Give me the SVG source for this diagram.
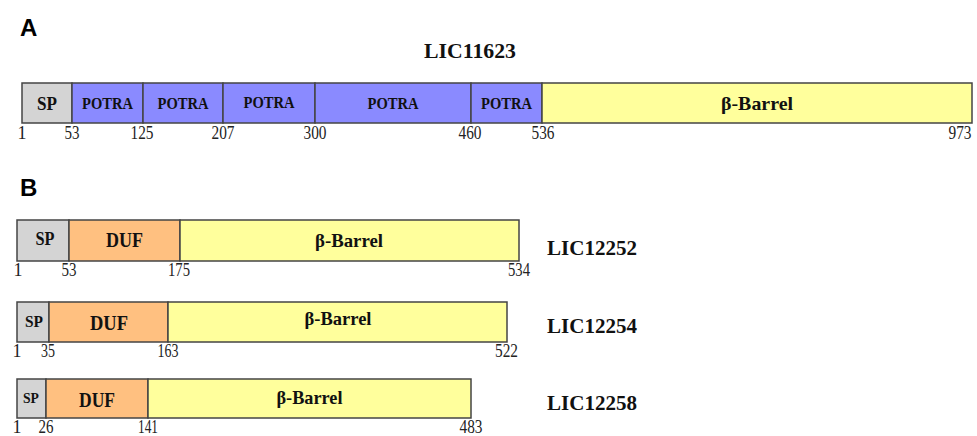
<svg xmlns="http://www.w3.org/2000/svg" width="977" height="436" viewBox="0 0 977 436">
<style>
.seg{stroke:#444;stroke-width:1.5}
.sp{fill:#d4d4d4}
.potra{fill:#8a8aff}
.duf{fill:#ffc080}
.bar{fill:#ffff9c}
.lab{font-family:"Liberation Serif","Times New Roman",serif;font-weight:bold;fill:#111;text-anchor:middle}
.num{font-family:"Liberation Serif","Times New Roman",serif;font-size:18px;fill:#222;text-anchor:middle}
.name{font-family:"Liberation Serif","Times New Roman",serif;font-weight:bold;font-size:21px;fill:#111}
.panel{font-family:"Liberation Sans",Arial,sans-serif;font-weight:bold;font-size:24px;fill:#000}
</style>
<rect width="977" height="436" fill="#fff"/>
<text class="panel" x="20" y="36">A</text>
<text class="panel" x="20" y="196">B</text>

<g id="LIC11623">
<text class="name" x="470" y="58" style="text-anchor:middle" font-size="23" textLength="92" lengthAdjust="spacingAndGlyphs">LIC11623</text>
<g id="A-SP"><rect class="seg sp" x="22" y="83" width="50" height="40"/><text class="lab" x="47" y="110" font-size="19" textLength="20" lengthAdjust="spacingAndGlyphs">SP</text></g>
<g id="A-POTRA1"><rect class="seg potra" x="72" y="83" width="71" height="40"/><text class="lab" x="107.5" y="109" font-size="17" textLength="51" lengthAdjust="spacingAndGlyphs">POTRA</text></g>
<g id="A-POTRA2"><rect class="seg potra" x="143" y="83" width="80" height="40"/><text class="lab" x="183" y="109" font-size="17" textLength="51" lengthAdjust="spacingAndGlyphs">POTRA</text></g>
<g id="A-POTRA3"><rect class="seg potra" x="223" y="83" width="92" height="40"/><text class="lab" x="269" y="108" font-size="17" textLength="51" lengthAdjust="spacingAndGlyphs">POTRA</text></g>
<g id="A-POTRA4"><rect class="seg potra" x="315" y="83" width="156" height="40"/><text class="lab" x="393" y="109" font-size="17" textLength="51" lengthAdjust="spacingAndGlyphs">POTRA</text></g>
<g id="A-POTRA5"><rect class="seg potra" x="471" y="83" width="71" height="40"/><text class="lab" x="506.5" y="109" font-size="17" textLength="51" lengthAdjust="spacingAndGlyphs">POTRA</text></g>
<g id="A-Barrel"><rect class="seg bar" x="542" y="83" width="430" height="40"/><text class="lab" x="757" y="110" font-size="19" textLength="72" lengthAdjust="spacingAndGlyphs">β-Barrel</text></g>
<g id="A-nums">
<text class="num" x="22" y="139">1</text>
<text class="num" x="72" y="139" textLength="15" lengthAdjust="spacingAndGlyphs">53</text>
<text class="num" x="142" y="139" textLength="23" lengthAdjust="spacingAndGlyphs">125</text>
<text class="num" x="223" y="139" textLength="23" lengthAdjust="spacingAndGlyphs">207</text>
<text class="num" x="315" y="139" textLength="23" lengthAdjust="spacingAndGlyphs">300</text>
<text class="num" x="470" y="139" textLength="23" lengthAdjust="spacingAndGlyphs">460</text>
<text class="num" x="543" y="139" textLength="23" lengthAdjust="spacingAndGlyphs">536</text>
<text class="num" x="960" y="139" textLength="23" lengthAdjust="spacingAndGlyphs">973</text>
</g>
</g>

<g id="LIC12252">
<g id="B1-SP"><rect class="seg sp" x="17" y="220" width="52" height="41"/><text class="lab" x="45" y="245" font-size="19" textLength="19" lengthAdjust="spacingAndGlyphs">SP</text></g>
<g id="B1-DUF"><rect class="seg duf" x="69" y="220" width="111" height="41"/><text class="lab" x="124.5" y="247" font-size="20" textLength="37" lengthAdjust="spacingAndGlyphs">DUF</text></g>
<g id="B1-Barrel"><rect class="seg bar" x="180" y="220" width="339" height="41"/><text class="lab" x="349" y="247" font-size="19" textLength="68" lengthAdjust="spacingAndGlyphs">β-Barrel</text></g>
<text class="num" x="18" y="276">1</text>
<text class="num" x="69" y="276" textLength="15" lengthAdjust="spacingAndGlyphs">53</text>
<text class="num" x="179" y="276" textLength="22" lengthAdjust="spacingAndGlyphs">175</text>
<text class="num" x="519" y="276" textLength="22" lengthAdjust="spacingAndGlyphs">534</text>
<text class="name" x="547" y="255" textLength="90" lengthAdjust="spacingAndGlyphs">LIC12252</text>
</g>

<g id="LIC12254">
<g id="B2-SP"><rect class="seg sp" x="17" y="302" width="32" height="40"/><text class="lab" x="34" y="327" font-size="16" textLength="18" lengthAdjust="spacingAndGlyphs">SP</text></g>
<g id="B2-DUF"><rect class="seg duf" x="49" y="302" width="119" height="40"/><text class="lab" x="109" y="330" font-size="20" textLength="38" lengthAdjust="spacingAndGlyphs">DUF</text></g>
<g id="B2-Barrel"><rect class="seg bar" x="168" y="302" width="339" height="40"/><text class="lab" x="338" y="325" font-size="19" textLength="67" lengthAdjust="spacingAndGlyphs">β-Barrel</text></g>
<text class="num" x="17" y="357">1</text>
<text class="num" x="48" y="357" textLength="14" lengthAdjust="spacingAndGlyphs">35</text>
<text class="num" x="168" y="357" textLength="21" lengthAdjust="spacingAndGlyphs">163</text>
<text class="num" x="506.5" y="357" textLength="23" lengthAdjust="spacingAndGlyphs">522</text>
<text class="name" x="547" y="333" textLength="90" lengthAdjust="spacingAndGlyphs">LIC12254</text>
</g>

<g id="LIC12258">
<g id="B3-SP"><rect class="seg sp" x="17" y="379" width="29" height="39"/><text class="lab" x="31" y="403" font-size="15" textLength="16" lengthAdjust="spacingAndGlyphs">SP</text></g>
<g id="B3-DUF"><rect class="seg duf" x="46" y="379" width="102" height="39"/><text class="lab" x="97" y="407" font-size="20" textLength="36" lengthAdjust="spacingAndGlyphs">DUF</text></g>
<g id="B3-Barrel"><rect class="seg bar" x="148" y="379" width="323" height="39"/><text class="lab" x="309.5" y="404" font-size="19" textLength="66" lengthAdjust="spacingAndGlyphs">β-Barrel</text></g>
<text class="num" x="17" y="433">1</text>
<text class="num" x="46" y="433" textLength="15" lengthAdjust="spacingAndGlyphs">26</text>
<text class="num" x="148" y="433" textLength="20" lengthAdjust="spacingAndGlyphs">141</text>
<text class="num" x="471" y="433" textLength="23" lengthAdjust="spacingAndGlyphs">483</text>
<text class="name" x="547" y="410" textLength="90" lengthAdjust="spacingAndGlyphs">LIC12258</text>
</g>

<g id="connectors"/>
</svg>
